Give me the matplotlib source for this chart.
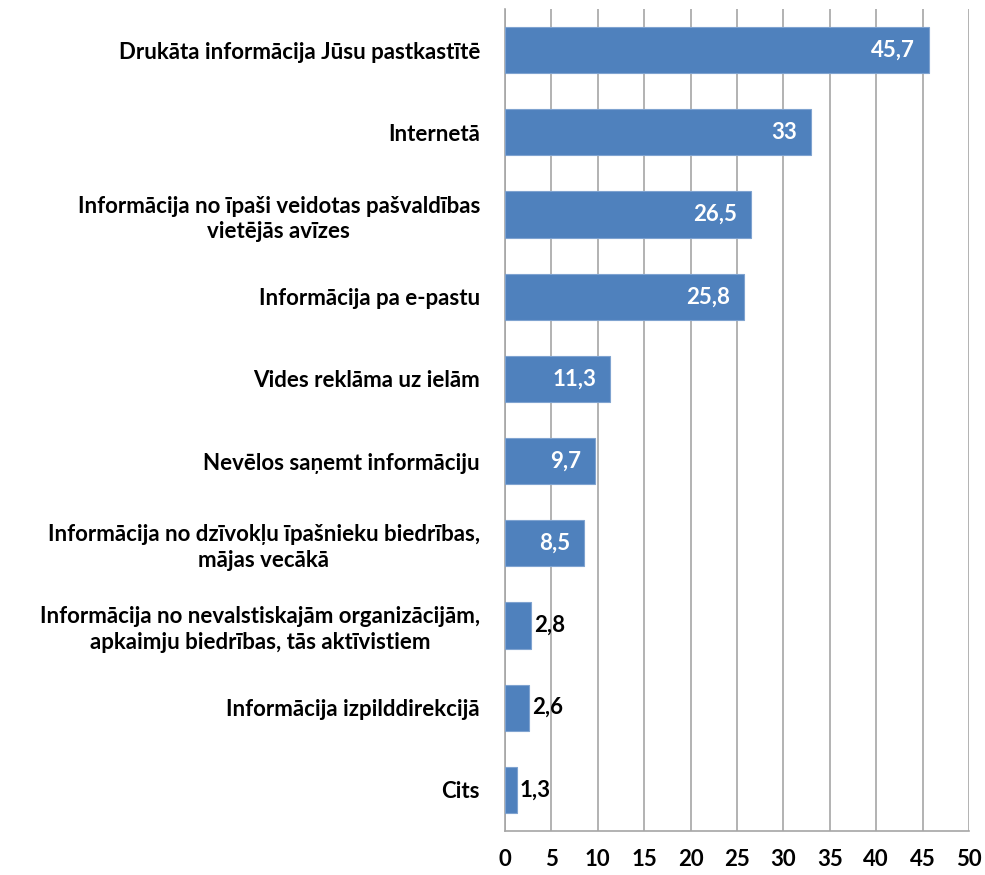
import matplotlib
matplotlib.use("Agg")
import matplotlib.pyplot as plt
import numpy as np

# kategorijas un vērtības (%)
categories = [
    "Drukāta informācija Jūsu pastkastītē",
    "Internetā",
    "Informācija no īpaši veidotas pašvaldības\nvietējās avīzes",
    "Informācija pa e-pastu",
    "Vides reklāma uz ielām",
    "Nevēlos saņemt informāciju",
    "Informācija no dzīvokļu īpašnieku biedrības,\nmājas vecākā",
    "Informācija no nevalstiskajām organizācijām,\napkaimju biedrības, tās aktīvistiem",
    "Informācija izpilddirekcijā",
    "Cits",
]
values = [45.7, 33, 26.5, 25.8, 11.3, 9.7, 8.5, 2.8, 2.6, 1.3]
value_labels = ["45,7", "33", "26,5", "25,8", "11,3", "9,7", "8,5", "2,8", "2,6", "1,3"]
x_ticks = [0, 5, 10, 15, 20, 25, 30, 35, 40, 45, 50]

plt.rcParams['font.family'] = ['Lato', 'DejaVu Sans']

fig = plt.figure(figsize=(9.85, 8.75), dpi=100)
ax = fig.add_axes([0.5127, 0.0503, 0.4711, 0.9394])

y = np.arange(len(categories))
bar_color = "#4F81BD"
ax.barh(y, values, height=0.56, color=bar_color, edgecolor="#7FA3D0", linewidth=0.8, zorder=3)

for yi, v, lab in zip(y, values, value_labels):
    if v >= 5:
        ax.text(v - 1.5, yi, lab, ha="right", va="center", color="white",
                fontsize=16, fontweight="bold", zorder=4)
    else:
        ax.text(v + 0.3, yi, lab, ha="left", va="center", color="black",
                fontsize=16, fontweight="bold", zorder=4)

ax.set_xlim(0, 50)
ax.set_ylim(len(categories) - 0.5, -0.5)
ax.set_xticks(x_ticks)
ax.set_xticklabels([str(t) for t in x_ticks], fontsize=16, fontweight="bold")
ax.set_yticks(y)
ax.set_yticklabels(categories, fontsize=16, fontweight="bold", linespacing=1.25)
for t in ax.get_yticklabels():
    t.set_multialignment("center")
ax.tick_params(axis="y", length=0, pad=18)
ax.tick_params(axis="x", length=0, pad=13)

ax.xaxis.grid(True, color="#A6A6A6", linewidth=1.2, zorder=0)
ax.set_axisbelow(True)
for side in ["top", "right"]:
    ax.spines[side].set_visible(False)
for side in ["left", "bottom"]:
    ax.spines[side].set_color("#A6A6A6")
    ax.spines[side].set_linewidth(1.2)

fig.savefig("out.png", dpi=100)
